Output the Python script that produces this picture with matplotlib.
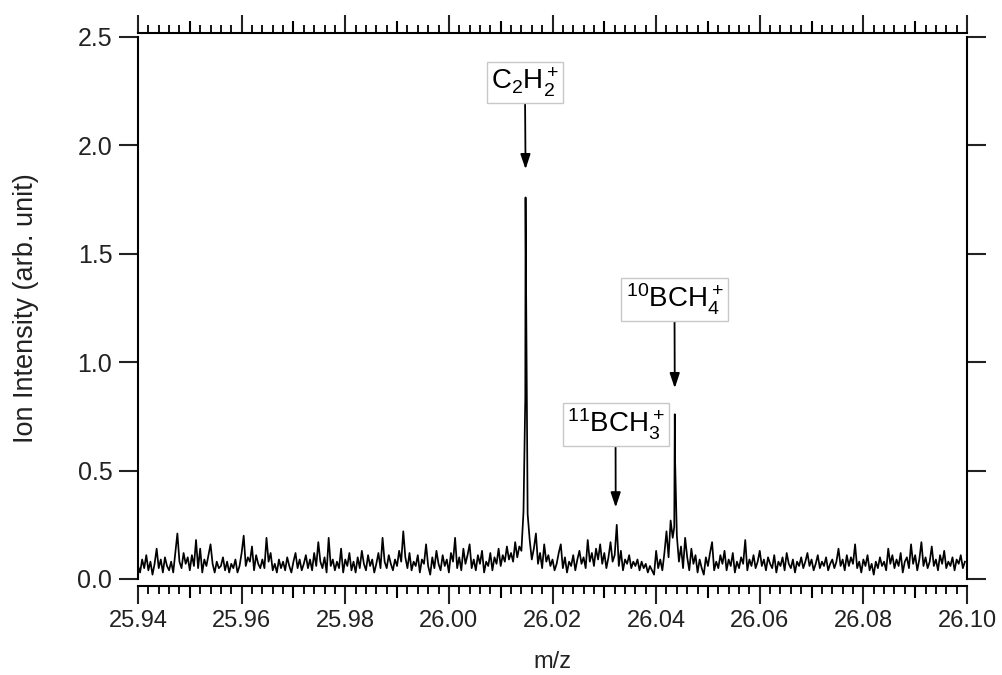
import numpy as np
import matplotlib
matplotlib.use('Agg')
from matplotlib import pyplot as plt
from matplotlib.ticker import MultipleLocator, FormatStrFormatter, FixedLocator, NullFormatter

mz_start = 25.94
mz_step = 0.0004
intensity = [
    0.06, 0.03, 0.09, 0.05, 0.11, 0.04, 0.08, 0.02, 0.07, 0.14, 0.05, 0.09, 0.03, 0.10, 0.06, 0.04, 0.08, 0.03, 0.12, 0.21,
    0.08, 0.05, 0.12, 0.07, 0.10, 0.04, 0.11, 0.06, 0.18, 0.05, 0.14, 0.03, 0.09, 0.06, 0.11, 0.16, 0.07, 0.03, 0.08, 0.05,
    0.06, 0.10, 0.04, 0.08, 0.03, 0.07, 0.05, 0.09, 0.03, 0.06, 0.12, 0.20, 0.06, 0.10, 0.08, 0.15, 0.04, 0.11, 0.07, 0.05,
    0.09, 0.05, 0.19, 0.08, 0.12, 0.04, 0.07, 0.03, 0.09, 0.05, 0.08, 0.04, 0.10, 0.06, 0.03, 0.08, 0.12, 0.05, 0.09, 0.04,
    0.07, 0.11, 0.05, 0.09, 0.04, 0.12, 0.06, 0.17, 0.08, 0.05, 0.10, 0.03, 0.19, 0.06, 0.09, 0.04, 0.08, 0.05, 0.14, 0.03,
    0.09, 0.06, 0.12, 0.04, 0.08, 0.03, 0.10, 0.05, 0.13, 0.07, 0.04, 0.11, 0.06, 0.09, 0.03, 0.07, 0.12, 0.05, 0.19, 0.08,
    0.05, 0.11, 0.07, 0.04, 0.09, 0.06, 0.13, 0.08, 0.22, 0.10, 0.05, 0.12, 0.04, 0.08, 0.06, 0.11, 0.03, 0.09, 0.07, 0.16,
    0.06, 0.02, 0.10, 0.05, 0.13, 0.07, 0.04, 0.11, 0.06, 0.09, 0.03, 0.12, 0.08, 0.19, 0.05, 0.10, 0.04, 0.14, 0.07, 0.11,
    0.16, 0.05, 0.09, 0.04, 0.11, 0.07, 0.13, 0.03, 0.08, 0.06, 0.12, 0.04, 0.10, 0.07, 0.14, 0.06, 0.11, 0.08, 0.15, 0.09,
    0.12, 0.08, 0.17, 0.10, 0.15, 0.13, 0.31, 1.76, 0.30, 0.18, 0.09, 0.14, 0.21, 0.07, 0.12, 0.05, 0.16, 0.08, 0.11, 0.06,
    0.09, 0.04, 0.07, 0.12, 0.16, 0.05, 0.10, 0.03, 0.08, 0.06, 0.11, 0.04, 0.09, 0.13, 0.07, 0.10, 0.05, 0.18, 0.08, 0.12,
    0.06, 0.14, 0.09, 0.16, 0.07, 0.12, 0.05, 0.10, 0.17, 0.08, 0.11, 0.25, 0.06, 0.13, 0.04, 0.09, 0.07, 0.11, 0.05, 0.08,
    0.06, 0.09, 0.04, 0.08, 0.05, 0.07, 0.03, 0.06, 0.04, 0.02, 0.13, 0.05, 0.09, 0.04, 0.12, 0.22, 0.10, 0.27, 0.19, 0.76,
    0.20, 0.08, 0.15, 0.05, 0.19, 0.10, 0.04, 0.14, 0.07, 0.11, 0.03, 0.09, 0.05, 0.02, 0.10, 0.06, 0.12, 0.17, 0.04, 0.08,
    0.05, 0.11, 0.07, 0.13, 0.04, 0.09, 0.06, 0.12, 0.03, 0.08, 0.05, 0.10, 0.07, 0.18, 0.04, 0.09, 0.06, 0.11, 0.05, 0.08,
    0.13, 0.06, 0.09, 0.04, 0.10, 0.07, 0.05, 0.11, 0.03, 0.08, 0.06, 0.10, 0.04, 0.12, 0.07, 0.05, 0.09, 0.03, 0.08, 0.06,
    0.10, 0.05, 0.08, 0.12, 0.06, 0.09, 0.04, 0.07, 0.11, 0.05, 0.08, 0.06, 0.10, 0.04, 0.07, 0.09, 0.05, 0.08, 0.14, 0.06,
    0.09, 0.04, 0.11, 0.06, 0.10, 0.07, 0.16, 0.05, 0.08, 0.03, 0.09, 0.06, 0.11, 0.04, 0.07, 0.02, 0.08, 0.05, 0.10, 0.06,
    0.08, 0.04, 0.14, 0.07, 0.11, 0.05, 0.09, 0.06, 0.12, 0.03, 0.08, 0.10, 0.05, 0.16, 0.07, 0.11, 0.04, 0.09, 0.17, 0.06,
    0.10, 0.05, 0.08, 0.15, 0.06, 0.09, 0.04, 0.11, 0.07, 0.13, 0.05, 0.08, 0.06, 0.10, 0.04, 0.09, 0.07, 0.11, 0.05, 0.08,
]

# extra samples on the sharp peak flanks
peak_mz = [26.01475, 26.01485, 26.04350, 26.04365]
peak_int = [0.84, 1.54, 0.24, 0.56]

# peak labels
labels = [r'$\mathregular{C_2H_2^+}$', r'$\mathregular{{}^{11}BCH_3^+}$', r'$\mathregular{{}^{10}BCH_4^+}$']
label_x = [26.0147, 26.03217, 26.04355]
label_y = [2.29, 0.713, 1.289]
arrow_x = [26.0148, 26.0322, 26.0436]
arrow_y = [1.89, 0.33, 0.88]

plt.rcParams['font.family'] = ['Liberation Sans', 'DejaVu Sans']
plt.rcParams['mathtext.fontset'] = 'custom'
plt.rcParams['mathtext.rm'] = 'Liberation Sans'

grid = mz_start + mz_step * np.arange(len(intensity))
mz = np.concatenate([grid, peak_mz])
val = np.concatenate([intensity, peak_int])
order = np.argsort(mz)

fig = plt.figure(figsize=(10.03, 6.75), dpi=100)
ax = fig.add_axes([138/1003, 96/675, 829/1003, 542/675])
ax.plot(mz[order], val[order], color='black', lw=1.25)

ax.set_xlim(25.94, 26.10)
ax.set_ylim(0, 2.5)

for s in ax.spines.values():
    s.set_linewidth(1.5)
ax.spines['bottom'].set_position(('outward', 5))
ax.spines['top'].set_position(('outward', 3))

ax.xaxis.set_major_locator(MultipleLocator(0.02))
ax.xaxis.set_minor_locator(MultipleLocator(0.002))
ax.xaxis.set_major_formatter(FormatStrFormatter('%.2f'))
ax.yaxis.set_major_locator(MultipleLocator(0.5))
ax.yaxis.set_major_formatter(FormatStrFormatter('%.1f'))

ax.tick_params(axis='x', which='major', direction='out', length=13, width=1.5,
               top=True, bottom=True, labelsize=17, pad=4, colors='#222222')
ax.tick_params(axis='x', which='minor', direction='out', length=5.5, width=1.3,
               top=True, bottom=True)
ax.tick_params(axis='y', which='major', direction='out', length=13.5, width=1.5,
               left=True, right=True, labelsize=18, pad=5, colors='#222222')

# medium ticks at the odd 0.01 positions
mid = [25.95, 25.97, 25.99, 26.01, 26.03, 26.05, 26.07, 26.09]
for loc in (-5 * 1.389 / 542, 1 + 3 * 1.389 / 542):
    sec = ax.secondary_xaxis(loc)
    sec.xaxis.set_major_locator(FixedLocator(mid))
    sec.xaxis.set_major_formatter(NullFormatter())
    sec.tick_params(length=8.5, width=1.5, direction='out')
    for s in sec.spines.values():
        s.set_visible(False)

ax.set_xlabel('m/z', fontsize=17, labelpad=14, color='#222222')
ax.set_ylabel('Ion Intensity (arb. unit)', fontsize=19.5, labelpad=28, color='#222222')

for text, tx, ty, px, py in zip(labels, label_x, label_y, arrow_x, arrow_y):
    ax.annotate(text, xy=(px, py), xytext=(tx, ty), ha='center', va='center',
                fontsize=20,
                bbox=dict(boxstyle='square,pad=0.15', fc='white', ec='#c8c8c8', lw=1),
                arrowprops=dict(arrowstyle='-|>,head_length=0.9,head_width=0.3',
                                color='black', lw=1.3, shrinkA=0, shrinkB=0,
                                mutation_scale=10, relpos=(0.5, 0)))

fig.savefig('out.png', dpi=100)
